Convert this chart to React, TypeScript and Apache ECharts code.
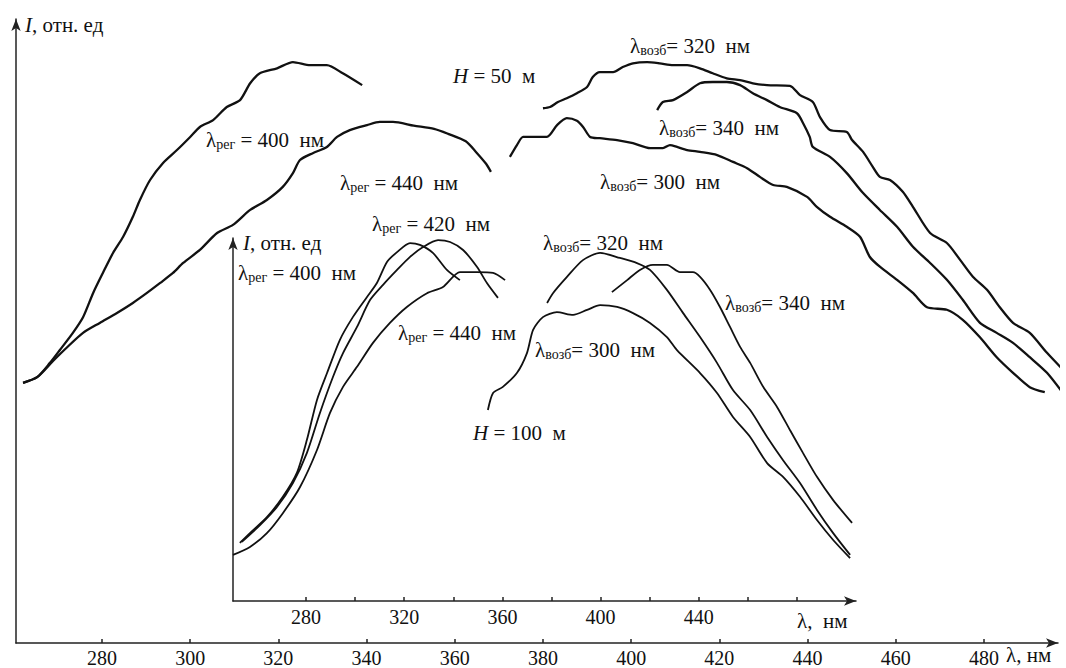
import React, { useEffect, useRef } from "react";
import * as echarts from "echarts";

// ---- Data (wavelength, nm ; intensity, rel. units) ----
// Main plot, H = 50 m
const mainReg400: number[][] = [
  [262.1, 41.7], [265.3, 42.6], [268.2, 44.9], [270.5, 47.0], [273.4, 49.7], [275.7, 52.2], [278.0, 56.1],
  [280.2, 59.3], [282.5, 62.5], [284.8, 65.1], [287.0, 68.3], [288.6, 71.0], [290.9, 74.2], [293.8, 76.9],
  [297.0, 79.0], [300.0, 81.1], [302.2, 82.7], [305.2, 83.8], [308.3, 85.9], [311.3, 87.0], [313.6, 89.7],
  [315.8, 91.3], [319.7, 92.1], [323.3, 93.1], [327.2, 92.6], [331.0, 92.6], [334.6, 91.3], [339.0, 89.4],
];
const mainReg440: number[][] = [
  [262.1, 41.7], [265.3, 42.6], [268.9, 45.2], [272.1, 47.4], [275.7, 49.7], [279.5, 51.3], [283.4, 52.9],
  [287.0, 54.5], [290.2, 56.1], [293.2, 57.7], [296.1, 59.3], [298.4, 60.9], [302.2, 63.0], [306.1, 65.7],
  [309.7, 67.0], [313.6, 69.4], [317.4, 71.0], [321.0, 73.1], [323.3, 75.3], [324.9, 77.4], [327.8, 78.5],
  [331.0, 79.5], [333.3, 81.1], [336.2, 82.2], [340.1, 83.0], [343.0, 83.5], [346.0, 83.5], [350.7, 82.9],
  [355.3, 82.4], [358.5, 81.6], [362.5, 80.4], [364.8, 78.7], [367.1, 76.8], [368.2, 75.5],
];
const mainVozb320: number[][] = [
  [380.0, 85.7], [381.6, 85.9], [383.4, 86.7], [385.4, 87.3], [387.7, 88.1], [390.0, 89.1], [391.3, 90.7],
  [392.9, 91.5], [395.9, 91.5], [398.1, 92.3], [400.4, 92.9], [403.6, 93.1], [406.5, 92.9], [409.5, 92.6],
  [412.7, 92.6], [415.6, 92.1], [418.5, 91.3], [421.7, 90.5], [424.7, 90.2], [427.6, 89.7], [430.8, 89.4],
  [436.0, 89.3], [438.3, 87.8], [441.2, 86.7], [442.8, 84.3], [445.1, 82.2], [448.9, 81.9], [450.1, 80.6],
  [452.6, 78.7], [454.8, 76.3], [456.4, 74.7], [458.7, 74.2], [461.6, 72.3], [463.9, 69.9], [467.8, 65.7],
  [471.6, 64.1], [474.6, 61.4], [477.5, 58.7], [480.7, 56.6], [483.6, 53.8], [486.6, 51.3], [490.4, 49.7],
  [494.3, 46.5], [498.6, 43.3],
];
const mainVozb340: number[][] = [
  [405.9, 85.4], [407.2, 86.7], [409.5, 87.0], [412.7, 88.3], [415.6, 89.7], [418.5, 89.9], [421.7, 89.9],
  [424.7, 89.4], [427.6, 88.1], [430.8, 87.0], [433.7, 85.9], [437.6, 84.9], [439.0, 83.3], [440.5, 81.1],
  [441.2, 79.5], [445.1, 77.9], [448.9, 75.3], [452.6, 72.1], [456.4, 69.4], [460.3, 66.7], [463.9, 63.5],
  [467.8, 60.9], [471.6, 58.2], [475.2, 55.0], [479.1, 51.3], [482.9, 49.7], [486.6, 48.1], [490.4, 45.8],
  [494.3, 43.3], [498.6, 39.4],
];
const mainVozb300: number[][] = [
  [372.5, 77.9], [374.1, 79.8], [375.5, 81.1], [377.7, 81.1], [380.9, 81.1], [383.2, 83.0], [385.4, 84.1],
  [387.7, 83.7], [389.1, 82.7], [390.7, 81.1], [392.9, 80.9], [396.8, 80.6], [400.4, 80.1], [404.3, 79.3],
  [407.2, 79.3], [408.8, 79.8], [410.4, 79.5], [412.7, 79.0], [415.6, 78.7], [419.5, 78.2], [423.1, 77.1],
  [426.3, 76.1], [429.2, 74.7], [432.2, 73.4], [435.3, 73.1], [439.9, 71.5], [442.1, 69.9], [445.1, 68.3],
  [448.9, 66.7], [451.9, 65.1], [454.1, 61.9], [456.4, 60.3], [460.3, 58.2], [463.9, 56.1], [467.1, 53.8],
  [471.6, 53.4], [475.2, 51.8], [479.1, 49.0], [482.9, 45.8], [486.6, 43.3], [490.4, 41.0], [493.8, 40.2],
];

// Inset plot, H = 100 m
const insetReg400: number[][] = [
  [253.1, 16.0], [257.2, 18.7], [264.1, 23.1], [270.6, 28.7], [276.3, 35.3], [280.4, 44.4], [284.5, 55.4],
  [288.6, 62.8], [293.8, 71.9], [299.1, 78.2], [304.8, 83.7], [308.9, 87.6], [313.0, 93.4], [317.1, 96.1],
  [322.4, 98.6], [326.4, 98.1], [331.7, 95.9], [337.4, 91.2], [342.7, 88.4],
];
const insetReg420: number[][] = [
  [253.9, 16.3], [261.3, 20.9], [268.2, 25.9], [274.7, 32.5], [280.4, 40.8], [285.7, 51.8], [291.0, 61.7],
  [295.1, 68.3], [300.8, 75.5], [306.1, 82.9], [311.4, 87.1], [317.1, 91.2], [322.4, 94.8], [327.7, 97.5],
  [333.8, 99.4], [338.7, 98.9], [344.0, 96.7], [349.7, 92.0], [353.7, 87.6], [358.2, 83.5],
];
const insetReg440: number[][] = [
  [250.3, 12.7], [257.2, 14.9], [264.1, 18.7], [270.6, 24.2], [277.6, 31.4], [284.5, 41.6], [289.8, 51.8],
  [295.1, 59.0], [300.8, 64.5], [307.3, 71.1], [314.2, 76.6], [321.1, 81.0], [329.3, 84.8], [335.8, 86.5],
  [342.7, 90.6], [349.7, 90.6], [356.2, 90.4], [361.1, 88.4],
];
const insetVozb300: number[][] = [
  [354.1, 52.6], [356.2, 57.3], [360.2, 59.0], [365.9, 62.8], [370.0, 68.3], [372.5, 74.7], [376.5, 78.2],
  [382.2, 79.6], [388.8, 78.8], [394.5, 80.2], [399.8, 81.5], [406.7, 81.0], [413.2, 79.3], [420.1, 76.6],
  [427.0, 72.7], [431.1, 69.1], [440.5, 62.8], [447.4, 57.3], [453.9, 50.7], [460.9, 45.2], [467.8, 38.0],
  [474.3, 34.2], [481.2, 28.7], [488.1, 22.3], [494.7, 16.8], [501.6, 11.8],
];
const insetVozb320: number[][] = [
  [378.2, 82.1], [380.6, 84.8], [386.3, 89.3], [392.8, 93.9], [399.8, 95.9], [407.9, 94.5], [414.8, 93.1],
  [420.1, 91.2], [427.0, 85.7], [433.6, 79.3], [440.5, 72.7], [447.4, 65.6], [453.9, 58.1], [460.9, 52.6],
  [467.8, 45.2], [474.3, 38.8], [481.2, 32.5], [488.1, 25.1], [494.7, 18.7], [501.6, 12.7],
];
const insetVozb340: number[][] = [
  [404.6, 85.1], [410.8, 88.4], [416.0, 91.2], [421.3, 92.6], [427.0, 92.6], [432.3, 90.6], [437.6, 90.6],
  [440.5, 89.3], [444.6, 85.7], [448.6, 81.0], [452.7, 75.5], [456.8, 70.0], [460.9, 65.6], [466.2, 59.0],
  [471.9, 53.4], [477.1, 47.1], [482.4, 40.8], [488.1, 34.2], [494.7, 27.8], [502.4, 21.5],
];

// Tick values
const mainTicks = [280, 300, 320, 340, 360, 380, 400, 420, 440, 460, 480];
const insetTicks = [280, 300, 320, 340, 360, 380, 400, 420, 440, 460, 480];
const insetTickLabels = [280, 320, 360, 400, 440];

const FONT = "Liberation Serif";
const INK = "#111";

const rich = {
  l: { fontSize: 21, lineHeight: 22, fontFamily: FONT, color: INK },
  s: { fontSize: 14, lineHeight: 10, verticalAlign: "bottom", fontFamily: FONT, color: INK },
  i: { fontSize: 21, lineHeight: 22, fontStyle: "italic", fontFamily: FONT, color: INK },
};

function label(x: number, y: number, text: string) {
  return {
    type: "text",
    x,
    y,
    silent: true,
    style: {
      text,
      rich,
      fontFamily: FONT,
      fontSize: 21,
      fill: INK,
      align: "left",
      verticalAlign: "middle",
    },
  };
}

function lineSeries(data: number[][], idx: number, width: number) {
  return {
    type: "line",
    xAxisIndex: idx,
    yAxisIndex: idx,
    data,
    showSymbol: false,
    smooth: 0.25,
    clip: false,
    lineStyle: { color: INK, width },
    silent: true,
  };
}

const axisLineStyle = { color: "#222", width: 1.5 };

export default function App() {
  const ref = useRef<HTMLDivElement>(null);
  useEffect(() => {
    if (!ref.current) return;
    const chart = echarts.init(ref.current, undefined, { renderer: "svg" });
    chart.setOption({
      animation: false,
      backgroundColor: "#fff",
      grid: [
        { left: 16, top: 19, right: 8, bottom: 25 },
        { left: 233, top: 238, right: 210, bottom: 67 },
      ],
      xAxis: [
        {
          gridIndex: 0,
          type: "value",
          min: 260.5,
          max: 496.8,
          axisLine: { show: true, symbol: ["none", "arrow"], symbolSize: [7, 12], lineStyle: axisLineStyle },
          axisTick: { show: true, inside: true, length: 4, customValues: mainTicks, lineStyle: { color: "#222", width: 1.5 } },
          axisLabel: { customValues: mainTicks, fontFamily: FONT, fontSize: 20, color: INK, margin: 5 },
          splitLine: { show: false },
        },
        {
          gridIndex: 1,
          type: "value",
          min: 250.3,
          max: 504,
          axisLine: { show: true, symbol: ["none", "arrow"], symbolSize: [7, 12], lineStyle: axisLineStyle },
          axisTick: { show: true, inside: true, length: 4, customValues: insetTicks, lineStyle: { color: "#222", width: 1.5 } },
          axisLabel: { customValues: insetTickLabels, fontFamily: FONT, fontSize: 20, color: INK, margin: 6 },
          splitLine: { show: false },
        },
      ],
      yAxis: [
        {
          gridIndex: 0,
          type: "value",
          min: 0,
          max: 100,
          axisLine: { show: true, symbol: ["none", "arrow"], symbolSize: [7, 12], lineStyle: axisLineStyle },
          axisTick: { show: false },
          axisLabel: { show: false },
          splitLine: { show: false },
        },
        {
          gridIndex: 1,
          type: "value",
          min: 0,
          max: 100,
          axisLine: { show: true, symbol: ["none", "arrow"], symbolSize: [7, 12], lineStyle: axisLineStyle },
          axisTick: { show: false },
          axisLabel: { show: false },
          splitLine: { show: false },
        },
      ],
      series: [
        lineSeries(mainReg400, 0, 2.3),
        lineSeries(mainReg440, 0, 2.3),
        lineSeries(mainVozb320, 0, 2.3),
        lineSeries(mainVozb340, 0, 2.3),
        lineSeries(mainVozb300, 0, 2.3),
        lineSeries(insetReg400, 1, 1.8),
        lineSeries(insetReg420, 1, 1.8),
        lineSeries(insetReg440, 1, 1.8),
        lineSeries(insetVozb300, 1, 1.8),
        lineSeries(insetVozb320, 1, 1.8),
        lineSeries(insetVozb340, 1, 1.8),
      ],
      graphic: [
        label(25, 25, "{i|I}{l|, отн. ед}"),
        label(243, 243, "{i|I}{l|, отн. ед}"),
        label(1006, 655, "{l|λ, нм}"),
        label(797, 621, "{l|λ,  нм}"),
        label(206, 140, "{l|λ}{s|рег}{l| = 400  нм}"),
        label(340, 183, "{l|λ}{s|рег}{l| = 440  нм}"),
        label(453, 76, "{i|H}{l| = 50  м}"),
        label(630, 46, "{l|λ}{s|возб}{l|= 320  нм}"),
        label(659, 128, "{l|λ}{s|возб}{l|= 340  нм}"),
        label(600, 182, "{l|λ}{s|возб}{l|= 300  нм}"),
        label(372, 224, "{l|λ}{s|рег}{l| = 420  нм}"),
        label(238, 273, "{l|λ}{s|рег}{l| = 400  нм}"),
        label(398, 333, "{l|λ}{s|рег}{l| = 440  нм}"),
        label(543, 243, "{l|λ}{s|возб}{l|= 320  нм}"),
        label(725, 303, "{l|λ}{s|возб}{l|= 340  нм}"),
        label(535, 350, "{l|λ}{s|возб}{l|= 300  нм}"),
        label(473, 433, "{i|H}{l| = 100  м}"),
      ],
    });
    return () => chart.dispose();
  }, []);
  return (
    <div
      ref={ref}
      style={{ position: "fixed", left: 0, top: 0, width: 1066, height: 668, background: "#fff" }}
    />
  );
}
